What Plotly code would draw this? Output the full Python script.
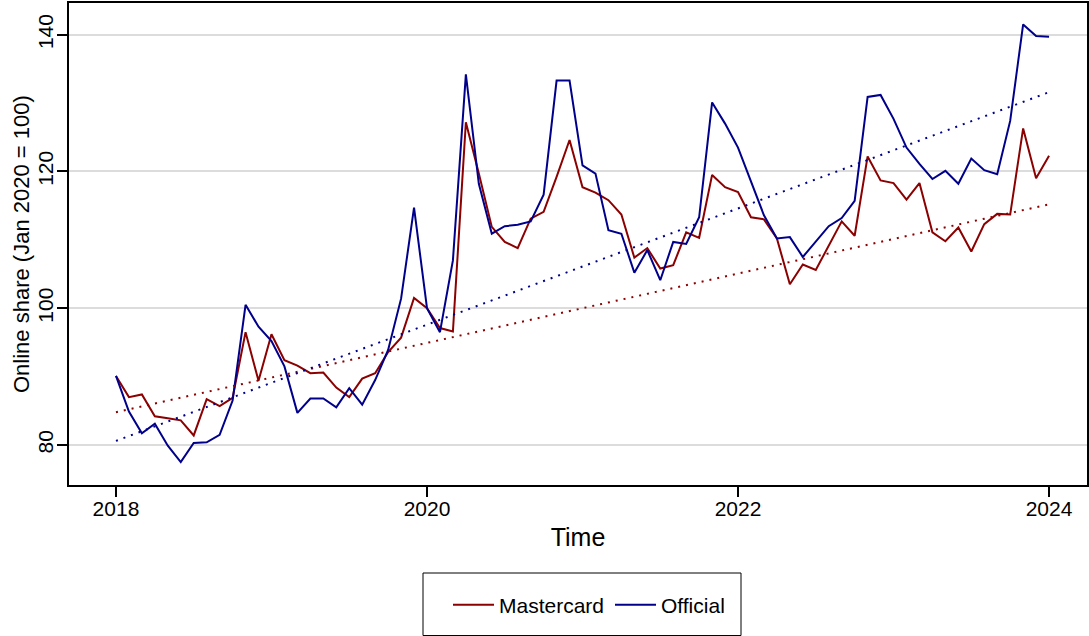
import plotly.graph_objects as go

# Monthly observations, Jan 2018 .. Jan 2024 (index: Jan 2020 = 100)
months = [2018 + i / 12 for i in range(73)]

mastercard = [
    90.1, 87.0, 87.4, 84.2, 83.9, 83.6, 81.4, 86.7, 85.7, 86.9, 96.5, 89.4,
    96.2, 92.4, 91.6, 90.5, 90.6, 88.4, 87.0, 89.7, 90.5, 93.6, 95.7, 101.5,
    100.0, 97.1, 96.6, 127.2, 119.7, 111.9, 109.7, 108.8, 113.1, 114.1, 119.2, 124.6,
    117.7, 116.9, 115.8, 113.7, 107.4, 108.8, 105.8, 106.3, 111.1, 110.3, 119.5, 117.7,
    117.0, 113.3, 113.0, 110.2, 103.5, 106.4, 105.6, 109.2, 112.7, 110.6, 122.2, 118.7,
    118.3, 115.9, 118.3, 111.1, 109.8, 111.8, 108.3, 112.3, 113.8, 113.7, 126.3, 119.0,
    122.3,
]

official = [
    90.1, 84.9, 81.7, 83.1, 79.9, 77.5, 80.3, 80.4, 81.5, 86.5, 100.5, 97.3,
    95.2, 91.5, 84.7, 86.8, 86.8, 85.5, 88.3, 85.9, 89.5, 93.9, 101.4, 114.7,
    100.0, 96.5, 107.0, 134.2, 118.2, 110.9, 112.0, 112.2, 112.7, 116.6, 133.3, 133.3,
    120.9, 119.7, 111.4, 110.9, 105.2, 108.5, 104.1, 109.7, 109.4, 113.3, 130.1, 127.0,
    123.5, 118.5, 113.6, 110.2, 110.4, 107.5, 109.7, 112.0, 113.2, 115.7, 130.9, 131.2,
    127.7, 123.5, 121.1, 118.9, 120.1, 118.2, 121.9, 120.2, 119.6, 127.4, 141.5, 139.8,
    139.7,
]

# Linear trend lines (end points)
trend_x = [2018, 2024]
trend_mastercard = [84.8, 115.2]
trend_official = [80.6, 131.6]

series_names = ["Mastercard", "Official"]
series_colors = ["#8B0000", "#00008B"]

x_ticks = [2018, 2020, 2022, 2024]
y_ticks = [80, 100, 120, 140]

x_title = "Time"
y_title = "Online share (Jan 2020 = 100)"

FONT = "Liberation Sans, Arial, sans-serif"

fig = go.Figure()
for name, vals, col in zip(series_names, [mastercard, official], series_colors):
    fig.add_trace(go.Scatter(x=months, y=vals, mode="lines", name=name,
                             line=dict(color=col, width=2)))
for name, vals, col in zip(series_names, [trend_mastercard, trend_official], series_colors):
    fig.add_trace(go.Scatter(x=trend_x, y=vals, mode="lines",
                             showlegend=False, hoverinfo="skip",
                             line=dict(color=col, width=2, dash="2px,6px")))

W, H = 1089, 636
L, R, T, B = 69, 2, 3, 151
pw, ph = W - L - R, H - T - B


def px_x(p):
    return (p - L) / pw


def px_y(p):
    return (H - B - p) / ph


fig.update_layout(
    width=W, height=H,
    margin=dict(l=L, r=R, t=T, b=B, autoexpand=False),
    paper_bgcolor="white", plot_bgcolor="white",
    font=dict(family=FONT, size=21, color="black"),
    showlegend=True,
    legend=dict(orientation="h", x=px_x(448), xanchor="left",
                y=px_y(605), yanchor="middle",
                bgcolor="rgba(0,0,0,0)", font=dict(size=21),
                itemwidth=41, tracegroupgap=0, entrywidth=106),
    shapes=[dict(type="rect", xref="paper", yref="paper",
                 x0=px_x(423), x1=px_x(741), y0=px_y(635.5), y1=px_y(573),
                 line=dict(color="black", width=1), fillcolor="rgba(0,0,0,0)")],
    annotations=[dict(text=y_title, xref="paper", yref="paper",
                      x=px_x(21), y=0.5, xanchor="center", yanchor="middle",
                      textangle=-90, showarrow=False,
                      font=dict(family=FONT, size=22, color="black"))],
)

fig.update_xaxes(
    range=[2017.698, 2024.244], tickvals=x_ticks, ticktext=[str(v) for v in x_ticks],
    showgrid=False, zeroline=False, showline=True, linecolor="black", linewidth=1.5,
    mirror=True, ticks="outside", ticklen=10, tickwidth=1.5, tickcolor="black",
    ticklabelstandoff=-6,
    title=dict(text=x_title, standoff=10), automargin=False,
)
fig.update_yaxes(
    range=[74.15, 144.64], tickvals=y_ticks, ticktext=[str(v) for v in y_ticks],
    tickangle=-90, showgrid=True, gridcolor="#DCDCDC", gridwidth=2,
    zeroline=False, showline=True, linecolor="black", linewidth=1.5,
    mirror=True, ticks="outside", ticklen=10, tickwidth=1.5, tickcolor="black",
    ticklabelstandoff=-4, automargin=False,
)

fig.write_html("out.html", config={"displayModeBar": False},
               post_script="document.body.style.margin='0';document.body.style.overflow='hidden';")
